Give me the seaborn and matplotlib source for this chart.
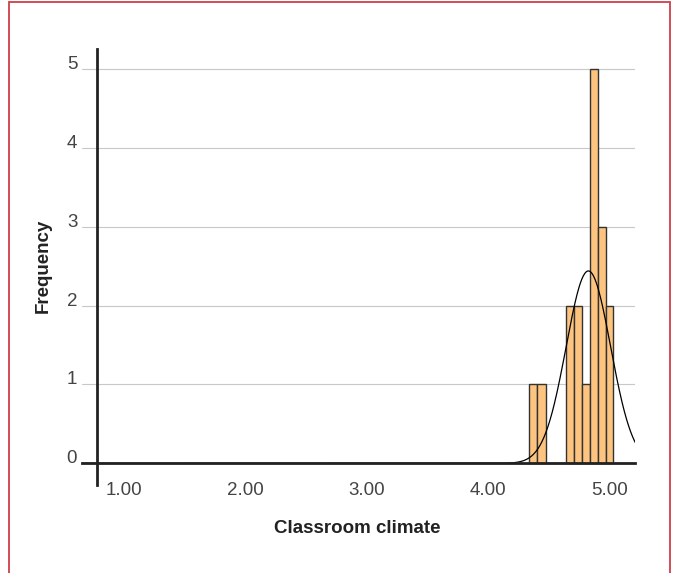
import numpy as np
import pandas as pd
import seaborn as sns
import matplotlib
matplotlib.use("Agg")
import matplotlib.pyplot as plt
from matplotlib.patches import Rectangle

# Histogram of classroom climate scores
bin_edges = [4.338, 4.404, 4.473, 4.640, 4.706, 4.772, 4.838, 4.903, 4.969, 5.030]
bin_counts = [1, 1, 0, 2, 2, 1, 5, 3, 2]

# Fitted normal curve parameters
curve_mean = 4.825
curve_sd = 0.183
n_cases = 17
bin_width = 0.0658

x_ticks = [1.0, 2.0, 3.0, 4.0, 5.0]
x_tick_labels = ["1.00", "2.00", "3.00", "4.00", "5.00"]
y_ticks = [0, 1, 2, 3, 4, 5]
y_tick_labels = ["0", "1", "2", "3", "4", "5"]

sns.set_style("white")
plt.rcParams["font.family"] = ["Liberation Sans", "DejaVu Sans"]

fig = plt.figure(figsize=(6.78, 5.73), dpi=100)
ax = fig.add_axes([0.1209, 0.150, 0.8161, 0.7712])

centers = [(bin_edges[i] + bin_edges[i + 1]) / 2 for i in range(len(bin_counts))]
df = pd.DataFrame({"climate": centers, "count": bin_counts})
sns.histplot(data=df, x="climate", weights="count", bins=bin_edges, ax=ax,
             color="#FDC47F", edgecolor="#333333", linewidth=1.0, alpha=1,
             zorder=3)

xlim = (0.657, 5.211)
xs = np.linspace(xlim[0], xlim[1], 800)
ys = n_cases * bin_width * np.exp(-0.5 * ((xs - curve_mean) / curve_sd) ** 2) / (curve_sd * np.sqrt(2 * np.pi))
sns.lineplot(x=xs, y=ys, ax=ax, color="black", linewidth=0.9, zorder=4)

ax.set_xlim(*xlim)
ax.set_ylim(-0.3, 5.3)

ax.set_xticks(x_ticks)
ax.set_xticklabels(x_tick_labels)
ax.set_yticks(y_ticks)
ax.set_yticklabels(y_tick_labels)

ax.grid(axis="y", color="#c8c8c8", linewidth=0.8, zorder=0)
ax.grid(axis="x", visible=False)
ax.set_axisbelow(True)

for side in ["top", "right"]:
    ax.spines[side].set_visible(False)
ax.spines["bottom"].set_position(("data", 0))
ax.spines["bottom"].set_color("#222222")
ax.spines["bottom"].set_linewidth(2)
ax.spines["bottom"].set_zorder(5)
ax.spines["left"].set_position(("data", 0.778))
ax.spines["left"].set_bounds(-0.27, 5.25)
ax.spines["left"].set_color("#222222")
ax.spines["left"].set_linewidth(2)
ax.spines["left"].set_zorder(5)

ax.tick_params(axis="x", direction="out", length=8.6, width=0.8, color="#c8c8c8",
               pad=5, labelsize=13.5, labelcolor="#444444")
ax.tick_params(axis="y", length=0, pad=14, labelsize=13.5, labelcolor="#444444")
for lbl in ax.get_yticklabels():
    lbl.set_verticalalignment("baseline")

ax.set_xlabel("Classroom climate", fontsize=13.5, fontweight="bold", color="#222222")
ax.set_ylabel("Frequency", fontsize=13.5, fontweight="bold", color="#222222")
ax.yaxis.set_label_coords(-0.054, 0.5)
ax.xaxis.set_label_coords(0.497, -0.075)

fig.patches.append(Rectangle((0.014, -0.05), 0.974, 1.0465, transform=fig.transFigure,
                             fill=False, edgecolor="#cf3f4a", linewidth=1.3))

fig.savefig("out.png", dpi=100)
